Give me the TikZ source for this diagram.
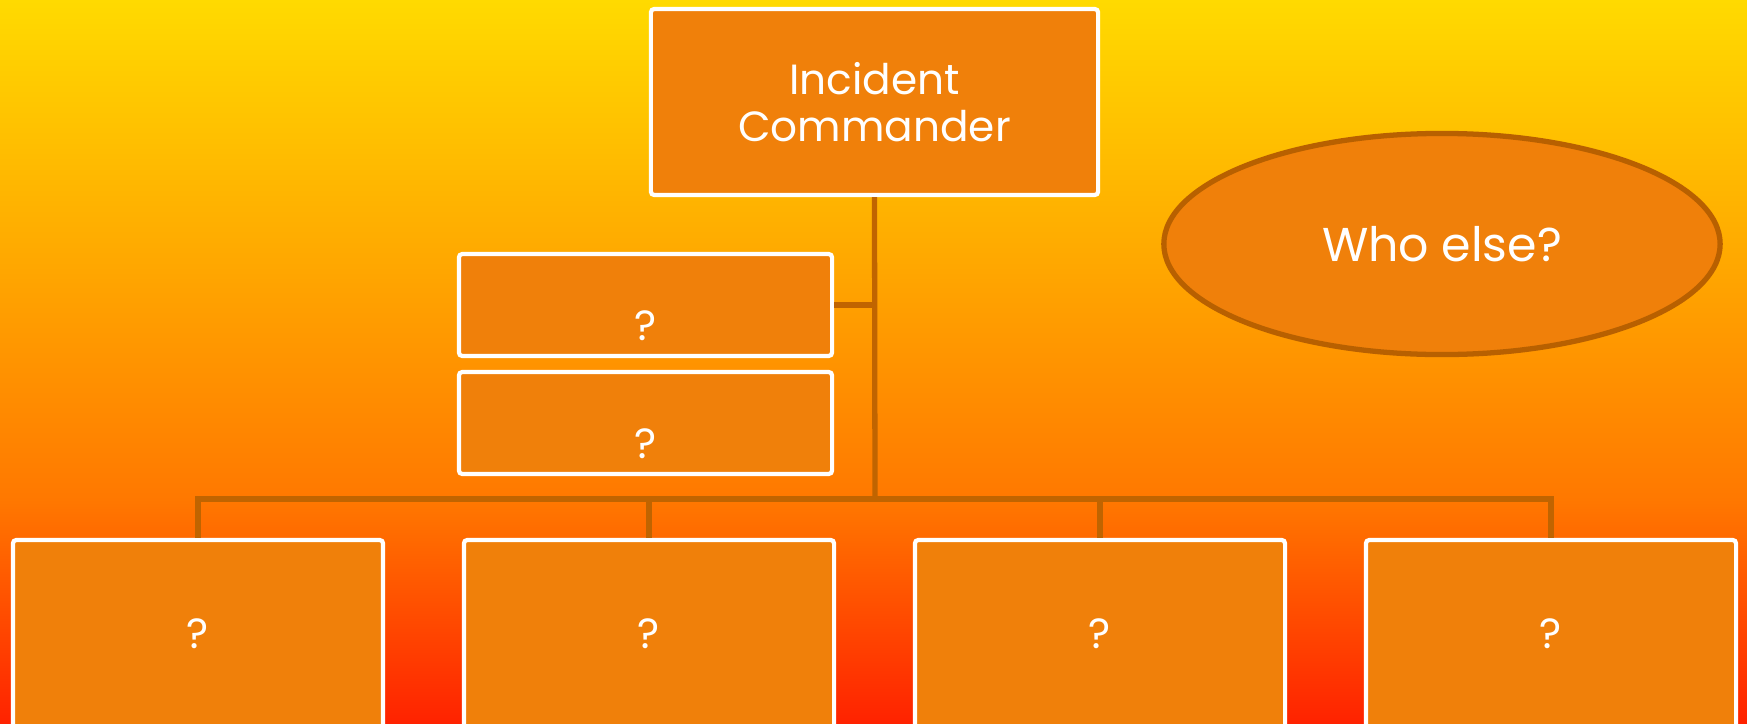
\documentclass[tikz,border=0pt]{standalone}
\usepackage{fontspec}
\setmainfont{Poppins}
\usetikzlibrary{shapes.geometric}
\usepackage{xcolor}

\definecolor{boxfill}{RGB}{240,128,10}
\definecolor{linkcol}{RGB}{192,100,0}
\definecolor{ovalline}{RGB}{184,96,0}
\definecolor{bgtop}{RGB}{255,218,0}
\definecolor{bgmid}{RGB}{255,168,0}
\definecolor{bglow}{RGB}{255,120,0}
\definecolor{bgbot}{RGB}{255,34,0}

\pgfdeclareverticalshading{bgfade}{100bp}{color(0bp)=(bgbot); color(25bp)=(bgbot); color(40.5bp)=(bglow); color(57bp)=(bgmid); color(75bp)=(bgtop); color(100bp)=(bgtop)}

\begin{document}
\begin{tikzpicture}[x=0.01cm, y=-0.01cm,
    box/.style={draw=white, fill=boxfill, line width=1.2pt, rounded corners=1pt,
      text=white, font=\fontsize{12}{13.4}\selectfont, align=center, inner sep=0pt},
    link/.style={draw=linkcol, line width=1.5pt}]
    \useasboundingbox (0,0) rectangle (1747,724);
    \shade[shading=bgfade] (0,0) rectangle (1747,724);
    \clip (0,0) rectangle (1747,724);

    \node[box, minimum width=4.47cm, minimum height=1.86cm] (ic) at (874.5,102) {Incident\\Commander};

    \node[box, minimum width=3.73cm, minimum height=1.02cm, text height=0.72cm] (s1) at (645.5,305) {?};
    \node[box, minimum width=3.73cm, minimum height=1.02cm, text height=0.72cm] (s2) at (645.5,423) {?};

    \node[box, minimum width=3.70cm, minimum height=1.88cm] (b1) at (198,634) {?};
    \node[box, minimum width=3.70cm, minimum height=1.88cm] (b2) at (649,634) {?};
    \node[box, minimum width=3.70cm, minimum height=1.88cm] (b3) at (1100,634) {?};
    \node[box, minimum width=3.70cm, minimum height=1.88cm] (b4) at (1551,634) {?};

    \node[ellipse, draw=ovalline, fill=boxfill, line width=1.5pt, text=white,
      minimum width=5.56cm, minimum height=2.21cm, inner sep=0pt,
      font=\fontsize{13.5}{15}\selectfont] (who) at (1442,244) {Who else?};

    \coordinate (bus) at (875,499);

  \draw[link] (ic.south) -- (bus);
  \draw[link] (s1.east) -- (s1.east -| bus);
  \draw[link] (b1.north) |- (bus) -| (b4.north);
  \draw[link] (b2.north) -- (b2.north |- bus);
  \draw[link] (b3.north) -- (b3.north |- bus);
 \end{tikzpicture}
\end{document}
